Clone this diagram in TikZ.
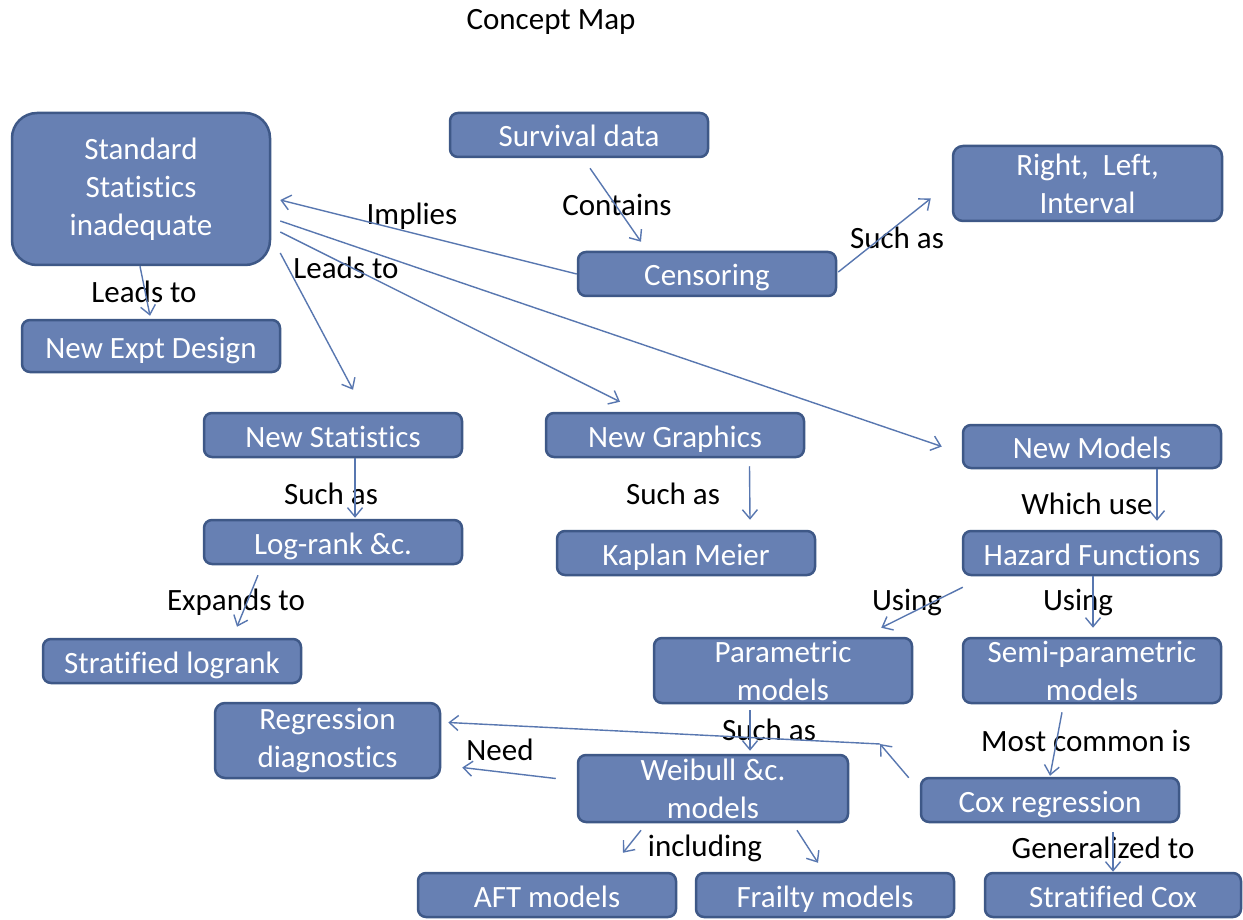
\documentclass[tikz,border=0pt]{standalone}
\usepackage{fontspec}
\setmainfont{Carlito}[Ligatures={NoCommon}]
\usetikzlibrary{arrows.meta,calc}
\definecolor{boxfill}{RGB}{103,128,179}
\definecolor{boxline}{RGB}{62,88,135}
\definecolor{arrowc}{RGB}{88,119,176}
\begin{document}
\begin{tikzpicture}[x=1pt,y=-1pt,
  box/.style={draw=boxline, line width=2.5pt, fill=boxfill, rounded corners=8pt,
    text=white, font=\fontsize{31}{38}\selectfont, align=center, inner sep=0pt},
  onebox/.style={box, text height=24pt, text depth=0pt},
  lab/.style={text=black, font=\fontsize{31}{38}\selectfont, inner sep=0pt},
  arr/.style={draw=arrowc, line width=1.4pt, -{Straight Barb[length=9pt,width=15pt]}}]
\useasboundingbox[fill=white] (0,0) rectangle (1243,920);

% boxes
\node[box, minimum width=258pt, minimum height=152pt, rounded corners=25pt] (std) at (141,189) {Standard\\Statistics\\inadequate};
\node[onebox, minimum width=258pt, minimum height=44pt] (surv) at (579,135) {Survival data};
\node[box, minimum width=269pt, minimum height=75pt, rounded corners=10pt] (rl) at (1087.5,183.5) {Right,\ \ Left,\\Interval};
\node[onebox, minimum width=258pt, minimum height=44pt] (cens) at (707,274) {Censoring};
\node[onebox, minimum width=258pt, minimum height=52pt] (ned) at (151,346) {New Expt Design};
\node[onebox, minimum width=258pt, minimum height=44pt] (nstat) at (333,435) {New Statistics};
\node[onebox, minimum width=258pt, minimum height=44pt] (ngr) at (675,435) {New Graphics};
\node[onebox, minimum width=258pt, minimum height=43pt] (nmod) at (1092,446.5) {New Models};
\node[onebox, minimum width=258pt, minimum height=44pt] (lr) at (333,542) {Log-rank \&c.};
\node[onebox, minimum width=258pt, minimum height=44pt] (km) at (686,553) {Kaplan Meier};
\node[onebox, minimum width=258pt, minimum height=44pt] (haz) at (1092,553) {Hazard Functions};
\node[onebox, minimum width=258pt, minimum height=44pt] (slr) at (172,661) {Stratified logrank};
\node[box, minimum width=258pt, minimum height=65pt] (par) at (783,670.5) {Parametric\\models};
\node[box, minimum width=258pt, minimum height=65pt] (semi) at (1092,670.5) {Semi-parametric\\models};
\node[box, minimum width=225pt, minimum height=75pt, rounded corners=10pt] (reg) at (327.5,740.5) {Regression\\diagnostics};
\node[box, minimum width=270pt, minimum height=67pt] (wei) at (713,788.5) {Weibull \&c.\\models};
\node[onebox, minimum width=258pt, minimum height=44pt] (cox) at (1050,800) {Cox regression};
\node[onebox, minimum width=258pt, minimum height=44pt] (aft) at (547,895) {AFT models};
\node[onebox, minimum width=258pt, minimum height=44pt] (frail) at (825,895) {Frailty models};
\node[onebox, minimum width=256pt, minimum height=44pt] (scox) at (1113,895) {Stratified Cox};

% labels
\node[lab] (title) at (551,22) {Concept Map};
\node[lab] (l1) at (144,292) {Leads to};
\node[lab] (l2) at (412,216) {Implies};
\node[lab] (l3) at (346,268) {Leads to};
\node[lab] (l4) at (617,205) {Contains};
\node[lab] (l5) at (897,238) {Such as};
\node[lab] (l6) at (331,494) {Such as};
\node[lab] (l7) at (673,494) {Such as};
\node[lab] (l8) at (1087,504) {Which use};
\node[lab] (l9) at (236,602) {Expands to};
\node[lab] (l10) at (907,602) {Using};
\node[lab] (l11) at (1078,602) {Using};
\node[lab] (l12) at (769,730) {Such as};
\node[lab] (l13) at (1086,741) {Most common is};
\node[lab] (l14) at (500,750) {Need};
\node[lab] (l15) at (705,848) {including};
\node[lab] (l16) at (1103,848) {Generalized to};

% connectors
\draw[arr] ($(std.south)+(-1,0)$) -- ($(ned.north)+(-1,-3)$);
\draw[arr] (cens.west) -- ($(std.east)+(9,11)$);
\draw[arr] ($(std.east)+(9,32)$) -- ($(nmod.west)+(-20,0)$);
\draw[arr] ($(std.east)+(9,43)$) -- ($(ngr.north)+(-55,-10)$);
\draw[arr] ($(std.east)+(9,64)$) -- ($(nstat.north)+(20,-22)$);
\draw[arr] ($(surv.south)+(11,10)$) -- ($(cens.north)+(-66,-9)$);
\draw[arr] ($(cens.east)+(1,-2)$) -- ($(rl.west)+(-21,15)$);
\draw[arr] ($(nstat.south)+(22,0)$) -- ($(lr.north)+(22,-1)$);
\draw[arr] ($(ngr.south)+(74.5,8)$) -- ($(km.north)+(64,-10)$);
\draw[arr] ($(nmod.south)+(65,0)$) -- ($(haz.north)+(65,-9)$);
\draw[arr] ($(lr.south)+(-75,10)$) -- ($(slr.north)+(65,-11)$);
\draw[arr] ($(haz.south west)+(1,11)$) -- ($(par.north east)+(-32,-9)$);
\draw[arr] ($(haz.south)+(1,0)$) -- ($(semi.north)+(1,-9)$);
\draw[arr] ($(par.south)+(-33,6)$) -- ($(wei.north)+(37,-3)$);
\draw[arr] ($(semi.south)+(-30,8)$) -- ($(cox.north)+(0,-1)$);
\coordinate (bend) at (880,744);
\draw[arr] ($(cox.north west)+(-11,1)$) -- (bend);
\draw[arr] (bend) -- ($(reg.east)+(7,-18)$);
\draw[arr] ($(wei.west)+(-21,-10)$) -- ($(reg.east)+(21,27)$);
\draw[arr] ($(wei.south)+(-72,7)$) -- ($(aft.north)+(76,-19)$);
\draw[arr] ($(wei.south)+(84,7)$) -- ($(frail.north)+(-7,-9)$);
\draw[arr] ($(cox.south)+(63,9)$) -- ($(scox.north)+(0,0)$);
\end{tikzpicture}
\end{document}
